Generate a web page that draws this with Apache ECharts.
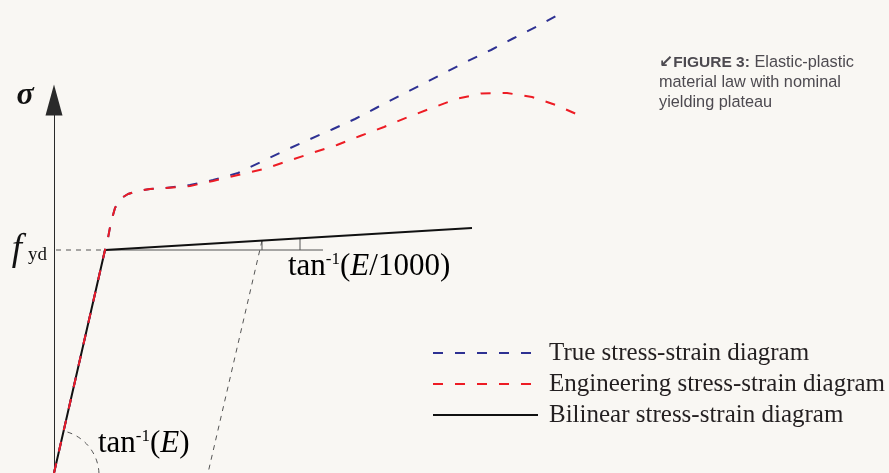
<!DOCTYPE html>
<html>
<head>
<meta charset="utf-8">
<style>
  html, body { margin: 0; padding: 0; background: #f9f7f3; }
  #chart { width: 889px; height: 473px; }
</style>
<script src="https://cdn.jsdelivr.net/npm/echarts@6/dist/echarts.min.js"></script>
</head>
<body>
<div id="chart"></div>
<script>
// ---- Data (strain, stress in schematic units) ----
const seriesNames = ['True stress-strain diagram', 'Engineering stress-strain diagram', 'Bilinear stress-strain diagram'];

const trueCurve = [[0,0],[51,223],[54,235],[57,251],[61,265],[66,274],[74,279],[84,282],[96,284],[111,285],[136,288],[159,293],[184,300],[209,312],[232,323],[254,333],[278,343.5],[301,354],[323,365.5],[346,377.5],[368,388.5],[391,400.5],[414,412],[437,423],[459,434.5],[483,446.5],[504,458],[511,461]];

const engineeringCurve = [[0,0],[51,223],[54,235],[57,251],[61,265],[66,274],[74,279],[84,282],[96,284],[111,285],[136,287],[159,292],[184,298],[210,304],[234,312],[258,320],[283,328],[306,337],[330,346],[354,356],[378,365],[402,374],[427,379.5],[453,380],[478,376],[502,368],[529,356]];

const bilinearCurve = [[0,0],[51,223],[418,245]];

const yTicks = [223];
const yTickLabels = ['{f|f}{s|yd}'];

const yieldGuide = [[2,223],[51,223]];
const hardeningRef = [[51,223],[269,223]];
const slopeTick1 = [[208,223],[208,232.4]];
const slopeTick2 = [[246,223],[246,234.7]];
const unloadLine = [[208,232.4],[154,0]];

const chart = echarts.init(document.getElementById('chart'), null, { renderer: 'canvas' });

function guide(data, dashed) {
  return {
    type: 'line', data: data, symbol: 'none', silent: true, clip: false, z: 1,
    lineStyle: { color: '#555', width: 1, type: dashed ? [5, 5] : 'solid' }
  };
}

const serifRich = {
  a: { fontFamily: 'Liberation Serif', fontSize: 31, color: '#111' },
  s: { fontFamily: 'Liberation Serif', fontSize: 17, color: '#111', verticalAlign: 'top' },
  e: { fontFamily: 'Liberation Serif', fontSize: 31, fontStyle: 'italic', color: '#111' }
};

chart.setOption({
  backgroundColor: '#f9f7f3',
  animation: false,
  title: {
    left: 659, top: 53, padding: 0,
    text: '{i|↙}{b|FIGURE 3:} Elastic-plastic\nmaterial law with nominal\nyielding plateau',
    textStyle: {
      fontFamily: 'Liberation Sans', fontSize: 16.3, fontWeight: 'normal', color: '#4d4a50', lineHeight: 20,
      rich: {
        i: { fontFamily: 'DejaVu Sans', fontSize: 17, fontWeight: 'bold', color: '#4d4a50', lineHeight: 20 },
        b: { fontFamily: 'Liberation Sans', fontSize: 15.5, fontWeight: 'bold', color: '#4d4a50', lineHeight: 20 }
      }
    }
  },
  legend: {
    orient: 'vertical', left: 432, top: 340, padding: 0,
    itemWidth: 105, itemHeight: 14, itemGap: 5,
    selectedMode: false,
    data: seriesNames,
    itemStyle: { opacity: 0 },
    textStyle: { fontFamily: 'Liberation Serif', fontSize: 25, color: '#231f20', lineHeight: 26, padding: [0, 0, 0, 6] }
  },
  grid: { left: 54, right: 0, top: 100, bottom: 0 },
  xAxis: { type: 'value', min: 0, max: 835, show: false },
  yAxis: {
    type: 'value', min: 0, max: 373,
    splitLine: { show: false },
    axisTick: { show: false },
    axisLine: { show: true, symbol: ['none', 'triangle'], symbolSize: [17, 31], lineStyle: { color: '#2a2a2a', width: 1 } },
    axisLabel: {
      customValues: yTicks, margin: 7,
      formatter: function (v) { return yTickLabels[yTicks.indexOf(v)] || ''; },
      rich: {
        f: { fontFamily: 'Liberation Serif', fontSize: 37, fontStyle: 'italic', color: '#111', padding: [0, 6, 0, 0] },
        s: { fontFamily: 'Liberation Serif', fontSize: 19, color: '#111', verticalAlign: 'bottom', padding: [0, 0, 4, 0] }
      }
    }
  },
  series: [
    { name: seriesNames[0], type: 'line', data: trueCurve, symbol: 'none', clip: false, z: 3,
      color: '#2e3192', lineStyle: { color: '#2e3192', width: 2, type: [10, 12] } },
    { name: seriesNames[1], type: 'line', data: engineeringCurve, symbol: 'none', clip: false, z: 4,
      color: '#ed1c24', lineStyle: { color: '#ed1c24', width: 2, type: [10, 12] } },
    { name: seriesNames[2], type: 'line', data: bilinearCurve, symbol: 'none', clip: false, z: 2,
      color: '#111', lineStyle: { color: '#111', width: 2, type: 'solid' } },
    guide(yieldGuide, true),
    guide(hardeningRef, false),
    guide(slopeTick1, false),
    guide(slopeTick2, false),
    guide(unloadLine, true)
  ]
});

// Annotations positioned from data coordinates
const origin = chart.convertToPixel({ gridIndex: 0 }, [0, 0]);
const yieldPt = chart.convertToPixel({ gridIndex: 0 }, [51, 223]);
const elasticAngle = Math.atan2(yieldPt[1] - origin[1], yieldPt[0] - origin[0]);
const labelHard = chart.convertToPixel({ gridIndex: 0 }, [234, 206]);
const labelElastic = chart.convertToPixel({ gridIndex: 0 }, [44, 29]);

chart.setOption({
  graphic: [
    { type: 'arc', silent: true,
      shape: { cx: origin[0], cy: origin[1] + 2, r: 45, startAngle: elasticAngle + 0.08, endAngle: 0, clockwise: true },
      style: { stroke: '#555', lineWidth: 1, lineDash: [5, 5], fill: null } },
    { type: 'text', x: labelHard[0], y: labelHard[1], silent: true,
      style: { text: '{a|tan}{s|-1}{a|(}{e|E}{a|/1000)}', rich: serifRich, verticalAlign: 'middle', align: 'left' } },
    { type: 'text', x: labelElastic[0], y: labelElastic[1], silent: true,
      style: { text: '{a|tan}{s|-1}{a|(}{e|E}{a|)}', rich: serifRich, verticalAlign: 'middle', align: 'left' } },
    { type: 'text', x: 25, y: 96, silent: true,
      style: { text: 'σ', fontFamily: 'Liberation Serif', fontSize: 32, fontWeight: 'bold', fontStyle: 'italic', fill: '#111', align: 'center', verticalAlign: 'middle' } }
  ]
});
</script>
</body>
</html>
